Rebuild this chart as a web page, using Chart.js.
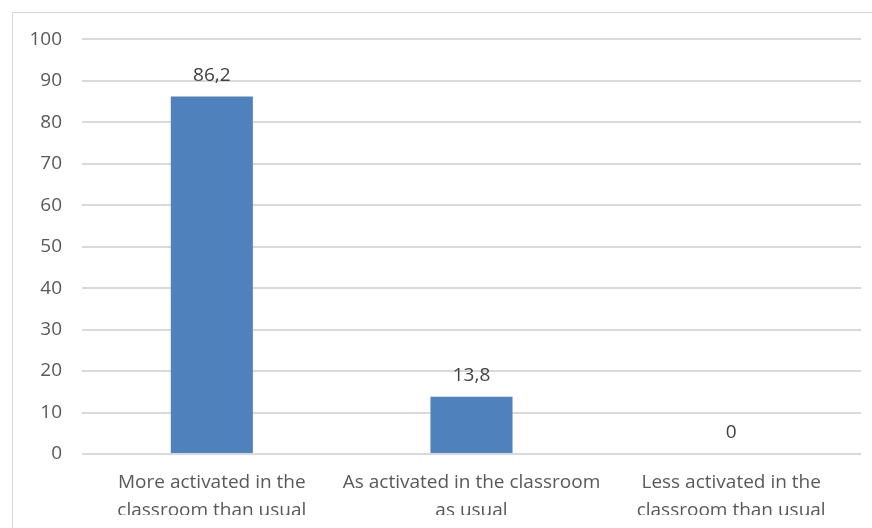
<!DOCTYPE html>
<html>
<head>
<meta charset="utf-8">
<script src="https://cdn.jsdelivr.net/npm/chart.js@4"></script>
<style>
  html, body { margin: 0; padding: 0; background: #fff; overflow: hidden; }
  #frame {
    position: absolute; left: 12px; top: 12px;
    width: 900px; height: 600px;
    border: 1px solid #d9d9d9; box-sizing: border-box;
  }
  #wrap { position: absolute; left: 13px; top: 8px; width: 859px; height: 507px; }
</style>
</head>
<body>
<div id="frame"></div>
<div id="wrap"><canvas id="activationChart"></canvas></div>
<script>
const categories = [
  ["More activated in the", "classroom than usual"],
  ["As activated in the classroom", "as usual"],
  ["Less activated in the", "classroom than usual"],
];
const percentages = [86.2, 13.8, 0];
const yTicks = [0, 10, 20, 30, 40, 50, 60, 70, 80, 90, 100];

const fontFamily = "'Open Sans', sans-serif";

// writes each value above its bar, decimal comma style
const valueLabels = {
  id: "valueLabels",
  afterDatasetsDraw(chart) {
    const ctx = chart.ctx;
    const meta = chart.getDatasetMeta(0);
    ctx.save();
    ctx.font = "19px " + fontFamily;
    ctx.fillStyle = "#404040";
    ctx.textAlign = "center";
    ctx.textBaseline = "alphabetic";
    meta.data.forEach((bar, i) => {
      const text = String(percentages[i]).replace(".", ",");
      ctx.fillText(text, bar.x, bar.y - 16);
    });
    ctx.restore();
  },
};

new Chart(document.getElementById("activationChart"), {
  type: "bar",
  data: {
    labels: categories,
    datasets: [
      {
        data: percentages,
        backgroundColor: "#4f81bd",
        barPercentage: 0.316,
        categoryPercentage: 1,
      },
    ],
  },
  options: {
    responsive: true,
    maintainAspectRatio: false,
    animation: false,
    layout: { padding: { top: 17, right: 11, left: 0, bottom: 0 } },
    plugins: { legend: { display: false }, tooltip: { enabled: false } },
    scales: {
      x: {
        grid: { display: false },
        border: { display: false },
        ticks: {
          color: "#595959",
          font: { family: fontFamily, size: 19, lineHeight: 1.45 },
          padding: 7,
          maxRotation: 0,
          autoSkip: false,
        },
        afterFit(scale) { scale.height = 61; },
      },
      y: {
        min: 0,
        max: 100,
        afterBuildTicks(scale) { scale.ticks = yTicks.map((v) => ({ value: v })); },
        grid: { color: "#d9d9d9", lineWidth: 2, drawTicks: false },
        border: { display: false },
        ticks: {
          color: "#595959",
          font: { family: fontFamily, size: 19 },
          padding: 20,
        },
        afterFit(scale) { scale.width = 69; },
      },
    },
  },
  plugins: [valueLabels],
});
</script>
</body>
</html>
